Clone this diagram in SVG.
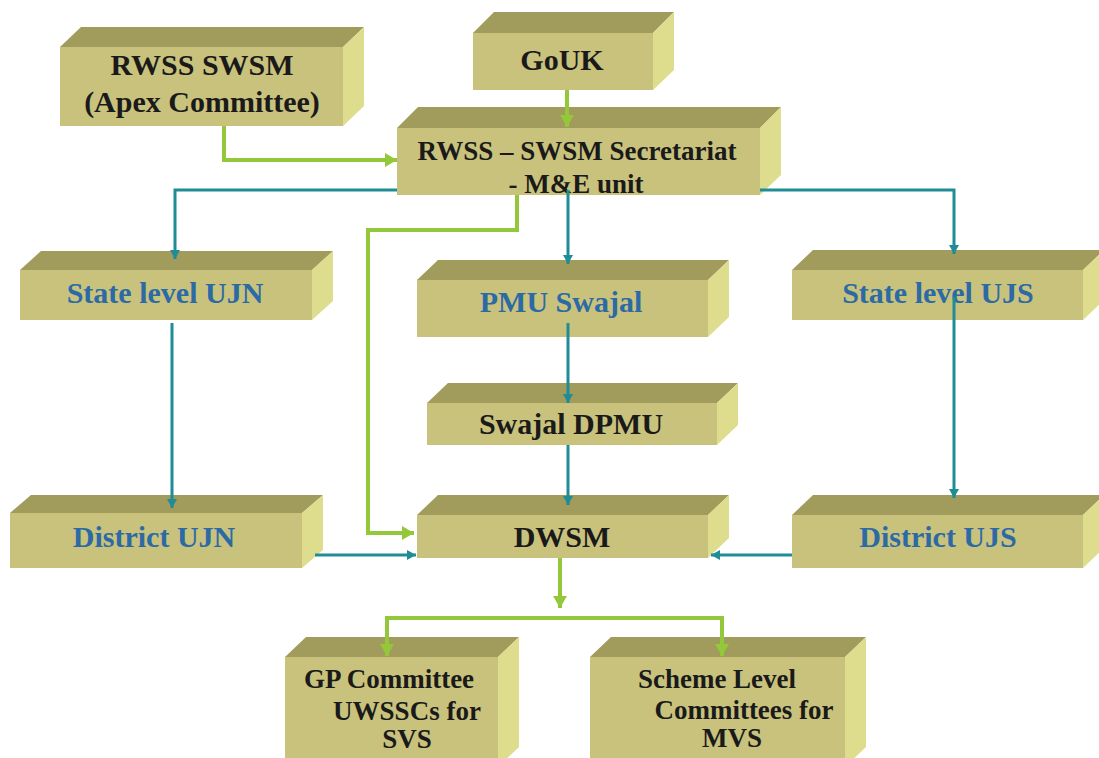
<svg xmlns="http://www.w3.org/2000/svg" width="1099" height="758" viewBox="0 0 1099 758">
<style>
.front{fill:#c9c27c}
.top{fill:#a19b5c}
.side{fill:#dedd8e}
.t{font-weight:bold;font-size:30px;text-anchor:middle}
.s{font-size:27px}
.k{fill:#1a1a1a}
.b{fill:#2c6aa6}
.g{fill:none;stroke:#92c83a;stroke-width:4}
.c{fill:none;stroke:#1f8c96;stroke-width:3}
</style>
<defs>
<marker id="ag" markerUnits="userSpaceOnUse" markerWidth="14" markerHeight="14" refX="12" refY="7" orient="auto">
<path d="M0,0 L12,7 L0,14 z" fill="#92c83a"/>
</marker>
<marker id="ac" markerUnits="userSpaceOnUse" markerWidth="10" markerHeight="10" refX="9" refY="5" orient="auto">
<path d="M0,0 L9,5 L0,10 z" fill="#1f8c96"/>
</marker>
</defs>
<rect width="1099" height="758" fill="#ffffff"/>
<g font-family="Liberation Serif, serif">
<g id="apex">
<rect class="front" x="60" y="47" width="283" height="79"/>
<polygon class="top" points="60,47 81,27 364,27 343,47"/>
<polygon class="side" points="343,47 364,27 364,106 343,126"/>
<text class="t k" x="202" y="75">RWSS SWSM</text>
<text class="t k" x="202" y="112">(Apex Committee)</text>
</g>

<g id="gouk">
<rect class="front" x="473" y="33" width="180" height="57"/>
<polygon class="top" points="473,33 494,12 674,12 653,33"/>
<polygon class="side" points="653,33 674,12 674,70 653,90"/>
<text class="t k" x="562" y="70">GoUK</text>
</g>

<g id="secretariat">
<rect class="front" x="397" y="128" width="363" height="67"/>
<polygon class="top" points="397,128 418,107 781,107 760,128"/>
<polygon class="side" points="760,128 781,107 781,175 760,195"/>
<text class="t s k" x="577" y="160">RWSS – SWSM Secretariat</text>
<text class="t s k" x="576" y="193">- M&amp;E unit</text>
</g>

<g id="state-ujn">
<rect class="front" x="20" y="270" width="292" height="50"/>
<polygon class="top" points="20,270 41,251 333,251 312,270"/>
<polygon class="side" points="312,270 333,251 333,301 312,320"/>
<text class="t b" x="165" y="303">State level UJN</text>
</g>

<g id="pmu">
<rect class="front" x="417" y="280" width="291" height="57"/>
<polygon class="top" points="417,280 438,260 729,260 708,280"/>
<polygon class="side" points="708,280 729,260 729,317 708,337"/>
<text class="t b" x="561" y="312">PMU Swajal</text>
</g>

<g id="state-ujs">
<rect class="front" x="792" y="270" width="291" height="50"/>
<polygon class="top" points="792,270 813,250 1104,250 1083,270"/>
<polygon class="side" points="1083,270 1104,250 1104,300 1083,320"/>
<text class="t b" x="938" y="303">State level UJS</text>
</g>

<g id="dpmu">
<rect class="front" x="427" y="403" width="290" height="42"/>
<polygon class="top" points="427,403 448,383 738,383 717,403"/>
<polygon class="side" points="717,403 738,383 738,425 717,445"/>
<text class="t k" x="571" y="434">Swajal DPMU</text>
</g>

<g id="district-ujn">
<rect class="front" x="10" y="513" width="292" height="55"/>
<polygon class="top" points="10,513 31,495 323,495 302,513"/>
<polygon class="side" points="302,513 323,495 323,550 302,568"/>
<text class="t b" x="154" y="547">District UJN</text>
</g>

<g id="dwsm">
<rect class="front" x="417" y="515" width="291" height="43"/>
<polygon class="top" points="417,515 438,495 729,495 708,515"/>
<polygon class="side" points="708,515 729,495 729,538 708,558"/>
<text class="t k" x="562" y="547">DWSM</text>
</g>

<g id="district-ujs">
<rect class="front" x="792" y="515" width="291" height="53"/>
<polygon class="top" points="792,515 813,495 1104,495 1083,515"/>
<polygon class="side" points="1083,515 1104,495 1104,548 1083,568"/>
<text class="t b" x="938" y="547">District UJS</text>
</g>

<g id="gp">
<rect class="front" x="285" y="657" width="213" height="110"/>
<polygon class="top" points="285,657 306,637 519,637 498,657"/>
<polygon class="side" points="498,657 519,637 519,747 498,767"/>
<text class="t s k" x="389" y="688">GP Committee</text>
<text class="t s k" x="407" y="720">UWSSCs for</text>
<text class="t s k" x="407" y="748">SVS</text>
</g>

<g id="scheme">
<rect class="front" x="590" y="657" width="255" height="110"/>
<polygon class="top" points="590,657 611,637 866,637 845,657"/>
<polygon class="side" points="845,657 866,637 866,747 845,767"/>
<text class="t s k" x="717" y="688">Scheme Level</text>
<text class="t s k" x="744" y="719">Committees for</text>
<text class="t s k" x="732" y="747">MVS</text>
</g>
</g>
<g id="connectors">
<path class="g" d="M224,126 V160 H397" marker-end="url(#ag)"/>
<path class="g" d="M567,90 V127" marker-end="url(#ag)"/>
<path class="g" d="M517,195 V230 H368 V533 H414" marker-end="url(#ag)"/>
<path class="g" d="M560,558 V608" marker-end="url(#ag)"/>
<path class="g" d="M560,618 H387 V656" marker-end="url(#ag)"/>
<path class="g" d="M560,618 H722 V656" marker-end="url(#ag)"/>
<path class="c" d="M397,190 H175 V259" marker-end="url(#ac)"/>
<path class="c" d="M760,190 H954 V254" marker-end="url(#ac)"/>
<path class="c" d="M568,190 V264" marker-end="url(#ac)"/>
<path class="c" d="M568,323 V403" marker-end="url(#ac)"/>
<path class="c" d="M568,445 V505" marker-end="url(#ac)"/>
<path class="c" d="M172,323 V508" marker-end="url(#ac)"/>
<path class="c" d="M954,297 V498" marker-end="url(#ac)"/>
<path class="c" d="M315,555 H416" marker-end="url(#ac)"/>
<path class="c" d="M792,555 H711" marker-end="url(#ac)"/>
</g>
</svg>
